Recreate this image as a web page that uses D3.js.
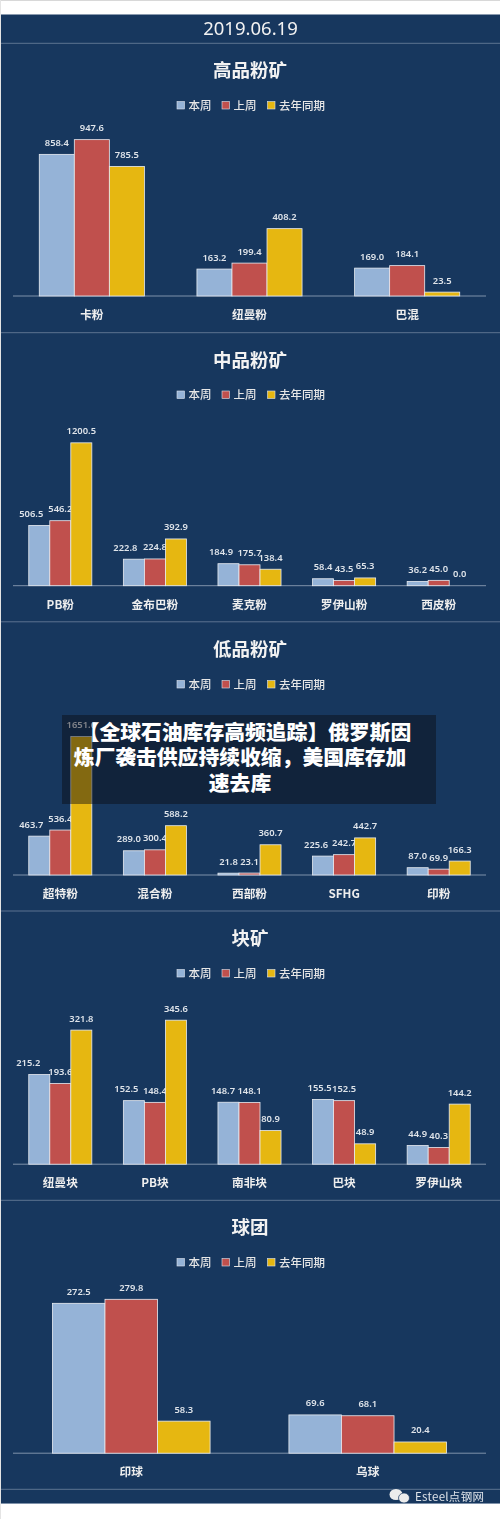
<!DOCTYPE html>
<html><head><meta charset="utf-8">
<script src="https://cdn.jsdelivr.net/npm/d3@7"></script>
<style>html,body{margin:0;padding:0;background:#fff;width:500px;height:1519px;overflow:hidden}svg{display:block}</style>
</head><body><svg id="c" width="500" height="1519"></svg>
<script>
const dateTitle = "2019.06.19";
const seriesNames = ["本周","上周","去年同期"];
const seriesColors = ["#95b3d7","#c0504d","#e6b711"];
const panelTitles = ["高品粉矿","中品粉矿","低品粉矿","块矿","球团"];
const cats1 = ["卡粉","纽曼粉","巴混"];
const vals1 = [[858.4,163.2,169.0],[947.6,199.4,184.1],[785.5,408.2,23.5]];
const cats2 = ["PB粉","金布巴粉","麦克粉","罗伊山粉","西皮粉"];
const vals2 = [[506.5,222.8,184.9,58.4,36.2],[546.2,224.8,175.7,43.5,45.0],[1200.5,392.9,138.4,65.3,0.0]];
const cats3 = ["超特粉","混合粉","西部粉","SFHG","印粉"];
const vals3 = [[463.7,289.0,21.8,225.6,87.0],[536.4,300.4,23.1,242.7,69.9],[1651.6,588.2,360.7,442.7,166.3]];
const cats4 = ["纽曼块","PB块","南非块","巴块","罗伊山块"];
const vals4 = [[215.2,152.5,148.7,155.5,44.9],[193.6,148.4,148.1,152.5,40.3],[321.8,345.6,80.9,48.9,144.2]];
const cats5 = ["印球","乌球"];
const vals5 = [[272.5,69.6],[279.8,68.1],[58.3,20.4]];
const overlayLines = ["【全球石油库存高频追踪】俄罗斯因","炼厂袭击供应持续收缩，美国库存加","速去库"];
const watermark = "Esteel点钢网";

const allCats=[cats1,cats2,cats3,cats4,cats5], allVals=[vals1,vals2,vals3,vals4,vals5];
// layout
const panelTops=[43,332.5,622,911,1200], baselines=[296,585.7,875,1164.2,1453.2], pxPerUnit=[.165,.119,.0838,.4167,.55];
const firstNudge=[[0,0,0],[-8,-8.5,-7.5,0,0],[-8,-5,0,-7,0],[-11,-7.5,-5.5,-3.5,0],[0,0]];
const font='"Noto Sans","Noto Sans CJK SC",sans-serif';
const cjk='"Noto Sans CJK SC","Noto Sans",sans-serif';
const blur='blur(.35px)';
const svg=d3.select("#c");
svg.append("rect").attr("x",0).attr("y",0).attr("width",500).attr("height",1).attr("fill","#d8d8d8");
svg.append("rect").attr("x",0).attr("y",0).attr("width",1).attr("height",1519).attr("fill","#e4e4e4");
svg.append("rect").attr("x",1).attr("y",14.5).attr("width",499).attr("height",1489).attr("fill","#17375e");
const chart=svg.append("g").style("filter",blur);
chart.append("text").attr("x",250.5).attr("y",35).attr("text-anchor","middle").attr("fill","#f2f2f2")
  .attr("font-family",font).attr("font-size",18.5).text(dateTitle);

const rule=y=>chart.append("line").attr("x1",1).attr("x2",500).attr("y1",y).attr("y2",y).attr("stroke","#5d7390").attr("stroke-width",1);
[43.3,332.7,621.8,911,1200.3,1489.3].forEach(rule);

panelTitles.forEach((title,p)=>{
  const g=chart.append("g"), top=panelTops[p], base=baselines[p];
  g.append("text").attr("x",250).attr("y",top+34).attr("text-anchor","middle").attr("fill","#f2f2f2")
    .attr("font-family",cjk).attr("font-weight",700).attr("font-size",18.5).text(title);
  const lx=[177,222,267.5], tx=[188.5,233.5,279];
  seriesNames.forEach((s,i)=>{
    g.append("rect").attr("x",lx[i]).attr("y",top+58.5).attr("width",7.5).attr("height",7.5)
      .attr("fill",seriesColors[i]).attr("stroke","#dfe5ee").attr("stroke-width",.6);
    g.append("text").attr("x",tx[i]).attr("y",top+66.5).attr("fill","#e6e6e6")
      .attr("font-family",cjk).attr("font-weight",500).attr("font-size",11.5).text(s);
  });
  const cats=allCats[p], vals=allVals[p];
  const y=d3.scaleLinear().domain([0,d3.max(vals.flat())]).range([base,base-d3.max(vals.flat())*pxPerUnit[p]]);
  const x0=d3.scaleBand().domain(cats).range([13,486]).paddingInner(1/3).paddingOuter(1/6);
  const x1=d3.scaleBand().domain(seriesNames).range([0,x0.bandwidth()]);
  g.append("line").attr("x1",13).attr("x2",486).attr("y1",base).attr("y2",base).attr("stroke","#7f92aa").attr("stroke-width",1);
  seriesNames.forEach((s,si)=>{
    vals[si].forEach((v,ci)=>{
      const bx=x0(cats[ci])+x1(s), w=x1.bandwidth(), h=y(0)-y(v);
      if(v>0) g.append("rect").attr("x",bx).attr("y",y(v)).attr("width",w).attr("height",h)
        .attr("fill",seriesColors[si]).attr("stroke","#e8ecf2").attr("stroke-width",.8);
      const nudge=si===0?firstNudge[p][ci]:0;
      g.append("text").attr("x",bx+w/2+nudge).attr("y",y(v)-8.5).attr("text-anchor","middle")
        .attr("fill","#dfe4ea").attr("font-family",font).attr("font-weight",600).attr("font-size",9.4).text(v.toFixed(1));
    });
  });
  const ax=g.append("g").attr("transform",`translate(0,${base})`).call(d3.axisBottom(x0).tickSize(0).tickPadding(12.5));
  ax.select(".domain").remove();
  ax.selectAll("text").attr("fill","#eeeeee").attr("font-family",cjk).attr("font-weight",700).attr("font-size",11.7)
    .attr("dy","0.9em");
});

// watermark
const wm=chart.append("g");
wm.append("ellipse").attr("cx",396).attr("cy",1494.5).attr("rx",6.5).attr("ry",5.5).attr("fill","#ececec");
wm.append("ellipse").attr("cx",404).attr("cy",1498).attr("rx",5.5).attr("ry",5).attr("fill","#ececec").attr("stroke","#17375e").attr("stroke-width",.7);
wm.append("text").attr("x",415).attr("y",1500.5).attr("fill","#dfe4ea").attr("font-family",cjk).attr("font-size",11.5).attr("letter-spacing",.3).text(watermark);
chart.append("rect").attr("x",1).attr("y",1503).attr("width",499).attr("height",1).attr("fill","#7f92aa");

// overlay
svg.append("rect").attr("x",62).attr("y",715).attr("width",374).attr("height",89).attr("fill","#0a0c12").attr("fill-opacity",.45);
const overlayX=[245,240,240];
overlayLines.forEach((t,i)=>svg.append("text").attr("x",overlayX[i]).attr("y",740+i*25.3).attr("text-anchor","middle")
  .attr("fill","#fff").attr("font-family",cjk).attr("font-weight",900).attr("font-size",20.8).text(t));
</script></body></html>
